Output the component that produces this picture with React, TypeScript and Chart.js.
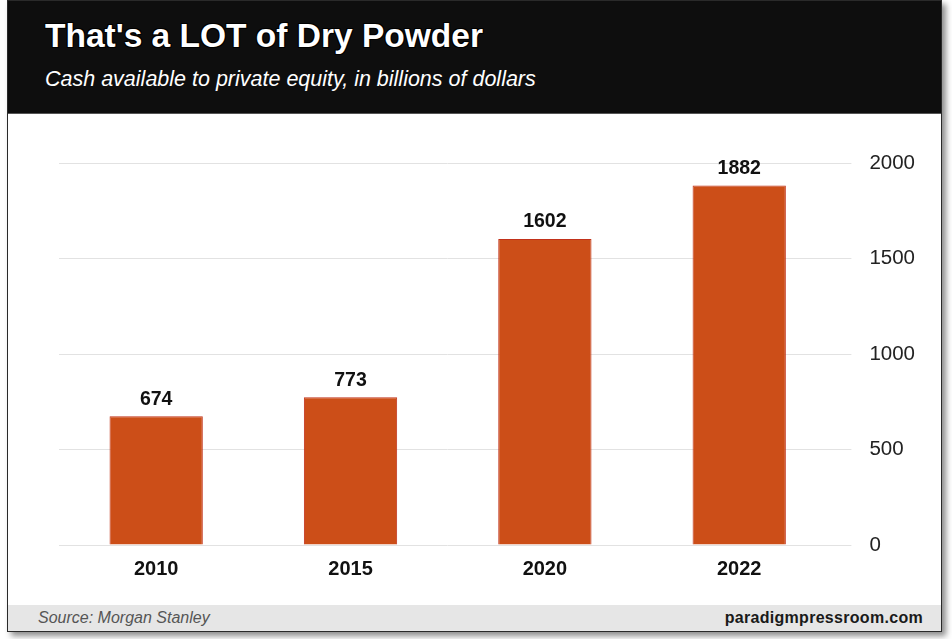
import React, { useEffect, useRef } from "react";
import { Chart, registerables } from "chart.js";

Chart.register(...registerables);

const categories = ["2010", "2015", "2020", "2022"];
const cashBillions = [674, 773, 1602, 1882];
const yTicks = [0, 500, 1000, 1500, 2000];

const title = "That's a LOT of Dry Powder";
const subtitle = "Cash available to private equity, in billions of dollars";
const source = "Source: Morgan Stanley";
const site = "paradigmpressroom.com";

const FONT = "'Liberation Sans', Arial, Helvetica, sans-serif";

const valueLabels = {
  id: "valueLabels",
  afterDatasetsDraw(chart: any) {
    const ctx = chart.ctx;
    const meta = chart.getDatasetMeta(0);
    const data = chart.data.datasets[0].data;
    ctx.save();
    ctx.font = `bold 19.5px ${FONT}`;
    ctx.fillStyle = "#111";
    ctx.textAlign = "center";
    ctx.textBaseline = "middle";
    meta.data.forEach((bar: any, i: number) => {
      ctx.fillText(String(data[i]), bar.x, bar.y - 17);
    });
    ctx.restore();
  },
};

export default function App() {
  const ref = useRef<HTMLCanvasElement | null>(null);

  useEffect(() => {
    if (!ref.current) return;
    const chart = new Chart(ref.current, {
      type: "bar",
      data: {
        labels: categories,
        datasets: [
          {
            data: cashBillions,
            backgroundColor: "#cc4e18",
            borderColor: "#c2321a",
            borderWidth: 1,
            barPercentage: 0.6,
            categoryPercentage: 0.8,
          },
        ],
      },
      options: {
        animation: false,
        responsive: false,
        layout: { padding: { left: 51, right: 8, top: 49, bottom: 12 } },
        plugins: {
          legend: { display: false },
          tooltip: { enabled: false },
          title: { display: false },
        },
        scales: {
          x: {
            grid: { display: false, drawTicks: false },
            border: { display: false },
            ticks: {
              padding: 12,
              color: "#111",
              font: { family: FONT, size: 20, weight: "bold" },
            },
          },
          y: {
            position: "right",
            min: 0,
            max: 2000,
            afterBuildTicks: (axis: any) => {
              axis.ticks = yTicks.map((v) => ({ value: v }));
            },
            grid: {
              color: "#e2e2e2",
              lineWidth: 1,
              drawTicks: true,
              tickLength: 15,
            },
            border: { display: false },
            ticks: {
              padding: 18,
              color: "#222",
              font: { family: FONT, size: 20.5 },
              callback: (v: any) => String(v),
            },
          },
        },
      },
      plugins: [valueLabels],
    });
    return () => chart.destroy();
  }, []);

  return (
    <div
      style={{
        position: "fixed",
        left: 0,
        top: 0,
        width: 952,
        height: 639,
        background: "#fff",
        overflow: "hidden",
        fontFamily: FONT,
      }}
    >
      <div
        style={{
          position: "absolute",
          left: 7,
          top: 0,
          width: 935,
          height: 632,
          boxSizing: "border-box",
          border: "1px solid #2a2a2a",
          boxShadow: "4px 4px 6px rgba(0,0,0,0.45)",
          background: "#fff",
        }}
      >
        <div
          style={{
            position: "relative",
            height: 112,
            background: "#0e0e0e",
            borderBottom: "1px solid #555",
          }}
        >
          <div
            style={{
              position: "absolute",
              left: 37,
              top: 18,
              fontSize: 33.5,
              lineHeight: "33px",
              fontWeight: "bold",
              color: "#fff",
              whiteSpace: "nowrap",
              textShadow:
                "1px 1px 0 #000, -1px -1px 0 #000, 1px -1px 0 #000, -1px 1px 0 #000",
            }}
          >
            {title}
          </div>
          <div
            style={{
              position: "absolute",
              left: 37,
              top: 68,
              fontSize: 21.5,
              lineHeight: "21px",
              fontStyle: "italic",
              color: "#fff",
              whiteSpace: "nowrap",
            }}
          >
            {subtitle}
          </div>
        </div>
        <div style={{ height: 491, background: "#fff" }}>
          <canvas ref={ref} width={933} height={491} style={{ display: "block" }} />
        </div>
        <div
          style={{
            height: 26,
            background: "#e6e6e6",
            display: "flex",
            alignItems: "center",
            justifyContent: "space-between",
            padding: "0 18px 0 30px",
            boxSizing: "border-box",
          }}
        >
          <span style={{ fontStyle: "italic", fontSize: 16, color: "#555" }}>{source}</span>
          <span style={{ fontWeight: "bold", fontSize: 16, color: "#1a1a1a", letterSpacing: 0.3 }}>
            {site}
          </span>
        </div>
      </div>
    </div>
  );
}
